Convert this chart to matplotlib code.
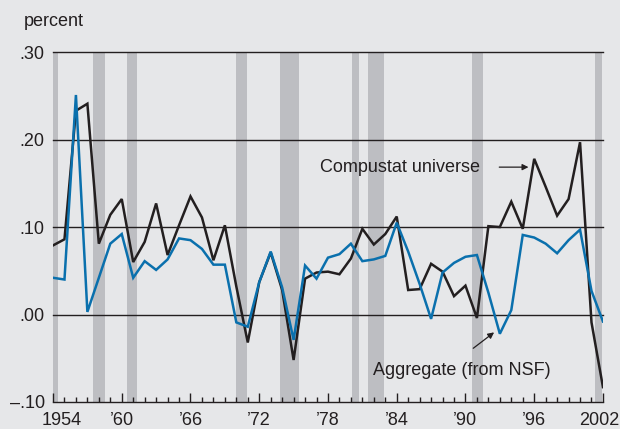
import matplotlib
matplotlib.use("Agg")
import matplotlib.pyplot as plt
import matplotlib.transforms as mtransforms
import numpy as np

plt.rcParams['font.family'] = ['Liberation Sans', 'DejaVu Sans']

anos = np.arange(1954, 2003)

compustat = [0.079, 0.086, 0.233, 0.241, 0.081, 0.114, 0.132, 0.060, 0.083, 0.127,
             0.068, 0.102, 0.135, 0.111, 0.062, 0.102, 0.032, -0.032, 0.037, 0.071,
             0.028, -0.052, 0.041, 0.048, 0.049, 0.046, 0.064, 0.098, 0.080, 0.092,
             0.112, 0.028, 0.029, 0.058, 0.049, 0.021, 0.033, -0.004, 0.101, 0.100,
             0.129, 0.098, 0.178, 0.146, 0.113, 0.132, 0.197, -0.009, -0.083]

agregado = [0.042, 0.040, 0.251, 0.003, 0.042, 0.081, 0.092, 0.042, 0.061, 0.051,
            0.063, 0.087, 0.085, 0.075, 0.057, 0.057, -0.009, -0.014, 0.037, 0.072,
            0.031, -0.029, 0.056, 0.041, 0.065, 0.069, 0.081, 0.061, 0.063, 0.067,
            0.105, 0.072, 0.035, -0.005, 0.048, 0.059, 0.066, 0.068, 0.025, -0.022,
            0.005, 0.091, 0.088, 0.081, 0.070, 0.085, 0.097, 0.027, -0.008]

# recessoes (inicio, fim)
rec_inicio = [1954.0, 1957.5, 1960.5, 1970.0, 1973.8, 1980.1, 1981.5, 1990.6, 2001.3]
rec_fim = [1954.45, 1958.5, 1961.3, 1970.95, 1975.45, 1980.7, 1982.9, 1991.55, 2001.9]

y_ticks = [-0.10, 0.0, 0.10, 0.20, 0.30]
y_labels = ['\u2013.10', '.00', '.10', '.20', '.30']
x_ticks = [1954, 1960, 1966, 1972, 1978, 1984, 1990, 1996, 2002]
x_labels = ['1954', '\u201960', '\u201966', '\u201972', '\u201978', '\u201984', '\u201990', '\u201996', '2002']

fundo = '#e6e7e9'
cinza = '#bdbec2'
preto = '#231f20'
azul = '#0a70ad'

fig = plt.figure(figsize=(6.2, 4.29), dpi=100, facecolor=fundo)
ax = fig.add_axes([0.0855, 0.063, 0.887, 0.8155])
ax.set_facecolor(fundo)

for a, b in zip(rec_inicio, rec_fim):
    ax.axvspan(a, b, color=cinza, lw=0, zorder=1)

for v in [0.0, 0.10, 0.20, 0.30]:
    ax.axhline(v, color=preto, lw=1.0, zorder=2, clip_on=False)

ax.plot(anos, compustat, color=preto, lw=1.8, zorder=3, solid_joinstyle='miter')
ax.plot(anos, agregado, color=azul, lw=1.8, zorder=4, solid_joinstyle='miter')

ax.set_xlim(1954, 2002)
ax.set_ylim(-0.10, 0.30)

for s in ['top', 'left', 'right']:
    ax.spines[s].set_visible(False)
ax.spines['bottom'].set_color(preto)
ax.spines['bottom'].set_linewidth(1.0)

ax.set_yticks(y_ticks)
ax.set_yticklabels(y_labels)
ax.tick_params(axis='y', length=0, pad=6, labelsize=13, labelcolor=preto)

ax.set_xticks(x_ticks)
ax.set_xticklabels(x_labels)
ax.set_xticks(anos, minor=True)
ax.tick_params(axis='x', which='major', direction='in', length=6.5, width=1.0,
               color=preto, pad=7, labelsize=13, labelcolor=preto)
ax.tick_params(axis='x', which='minor', direction='in', length=3.6, width=1.0, color=preto)

# primeiro e ultimo rotulos deslocados
rotulos = ax.get_xticklabels()
rotulos[0].set_transform(rotulos[0].get_transform() + mtransforms.ScaledTranslation(9 / 100, 0, fig.dpi_scale_trans))
rotulos[-1].set_transform(rotulos[-1].get_transform() + mtransforms.ScaledTranslation(-4 / 100, 0, fig.dpi_scale_trans))

fig.text(0.0387, 0.951, 'percent', fontsize=13, color=preto, va='center', ha='left')

ax.text(1977.3, 0.1685, 'Compustat universe', fontsize=13, color=preto, va='center', ha='left', zorder=5)
ax.annotate('', xy=(1995.5, 0.1685), xytext=(1992.95, 0.1685),
            arrowprops=dict(arrowstyle='-|>', color=preto, lw=0.9, mutation_scale=9, shrinkA=0, shrinkB=0),
            zorder=5)

ax.text(1981.95, -0.0637, 'Aggregate (from NSF)', fontsize=13, color=preto, va='center', ha='left', zorder=5)
ax.annotate('', xy=(1992.5, -0.0204), xytext=(1990.68, -0.0386),
            arrowprops=dict(arrowstyle='-|>', color=preto, lw=0.9, mutation_scale=9, shrinkA=0, shrinkB=0),
            zorder=5)

fig.savefig('out.png', dpi=100, facecolor=fundo)
